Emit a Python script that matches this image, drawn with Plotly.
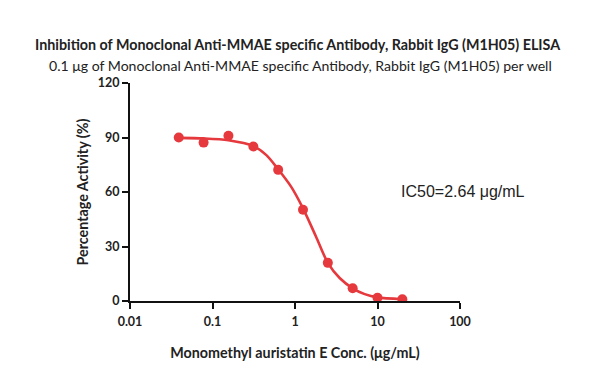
import plotly.graph_objects as go

# Data
conc = [0.039, 0.078, 0.156, 0.3125, 0.625, 1.25, 2.5, 5, 10, 20]
activity = [90, 87.2, 91.0, 85.0, 72.2, 50.2, 21.0, 7.0, 1.8, 1.0]

# Fitted curve points
curve_x = [0.039, 0.078, 0.156, 0.3125, 0.45, 0.625, 0.9, 1.25, 1.8, 2.5, 3.5, 5, 7, 10, 20]
curve_y = [89.8, 89.5, 88.5, 85.3, 80.3, 72.5, 62.8, 51.0, 35.4, 21.0, 12.5, 7.0, 3.8, 2.0, 1.0]

x_tickvals = [0.01, 0.1, 1, 10, 100]
x_ticktext = ["0.01", "0.1", "1", "10", "100"]
y_tickvals = [0, 30, 60, 90, 120]

red = "#e5393e"
font_main = "Lato, 'Open Sans', sans-serif"

fig = go.Figure()
fig.add_trace(go.Scatter(x=curve_x, y=curve_y, mode="lines",
                         line=dict(color=red, width=2.6, shape="spline", smoothing=0.8),
                         hoverinfo="skip", showlegend=False))
fig.add_trace(go.Scatter(x=conc, y=activity, mode="markers",
                         marker=dict(color=red, size=10), showlegend=False))

fig.update_layout(
    width=600, height=380,
    margin=dict(l=130, r=140, t=83, b=79),
    paper_bgcolor="white", plot_bgcolor="white",
    font=dict(family=font_main, color="#222"),
    showlegend=False,
)
fig.update_xaxes(type="log", range=[-2, 2], tickvals=x_tickvals, ticktext=x_ticktext,
                 showgrid=False, zeroline=False, showline=True, linecolor="#111", linewidth=2,
                 ticks="outside", ticklen=6, tickwidth=2, tickcolor="#111",
                 ticklabelstandoff=2,
                 tickfont=dict(size=12.5, family=font_main, color="#222", weight="bold"),
                 title=dict(text="<b>Monomethyl auristatin E Conc. (μg/mL)</b>",
                            font=dict(size=14.3, family=font_main, color="#222"), standoff=20))
fig.update_yaxes(range=[0, 120], tickvals=y_tickvals,
                 showgrid=False, zeroline=False, showline=True, linecolor="#111", linewidth=2,
                 ticks="outside", ticklen=6, tickwidth=2, tickcolor="#111",
                 tickfont=dict(size=12.5, family=font_main, color="#222", weight="bold"),
                 title=dict(text="<b>Percentage Activity (%)</b>",
                            font=dict(size=14.3, family=font_main, color="#222"), standoff=6))

plot_h = 380 - 83 - 79
plot_w = 600 - 130 - 140


def py(pix):
    return (380 - 79 - pix) / plot_h


def px(pix):
    return (pix - 130) / plot_w


fig.add_annotation(text="<b>Inhibition of Monoclonal Anti-MMAE specific Antibody, Rabbit IgG (M1H05) ELISA</b>",
                   xref="paper", yref="paper", x=px(298), y=py(45), xanchor="center", yanchor="middle",
                   showarrow=False, font=dict(size=14.3, family=font_main, color="#222"))
fig.add_annotation(text="0.1 μg of Monoclonal Anti-MMAE specific Antibody, Rabbit IgG (M1H05) per well",
                   xref="paper", yref="paper", x=px(300), y=py(66), xanchor="center", yanchor="middle",
                   showarrow=False, font=dict(size=14.1, family=font_main, color="#222"))
fig.add_annotation(text="IC50=2.64 μg/mL", xref="paper", yref="paper", x=px(399), y=py(191),
                   xanchor="left", yanchor="middle", showarrow=False,
                   font=dict(size=16, family="Liberation Sans, Arial, sans-serif", color="#222"))

fig.write_html("out.html")
